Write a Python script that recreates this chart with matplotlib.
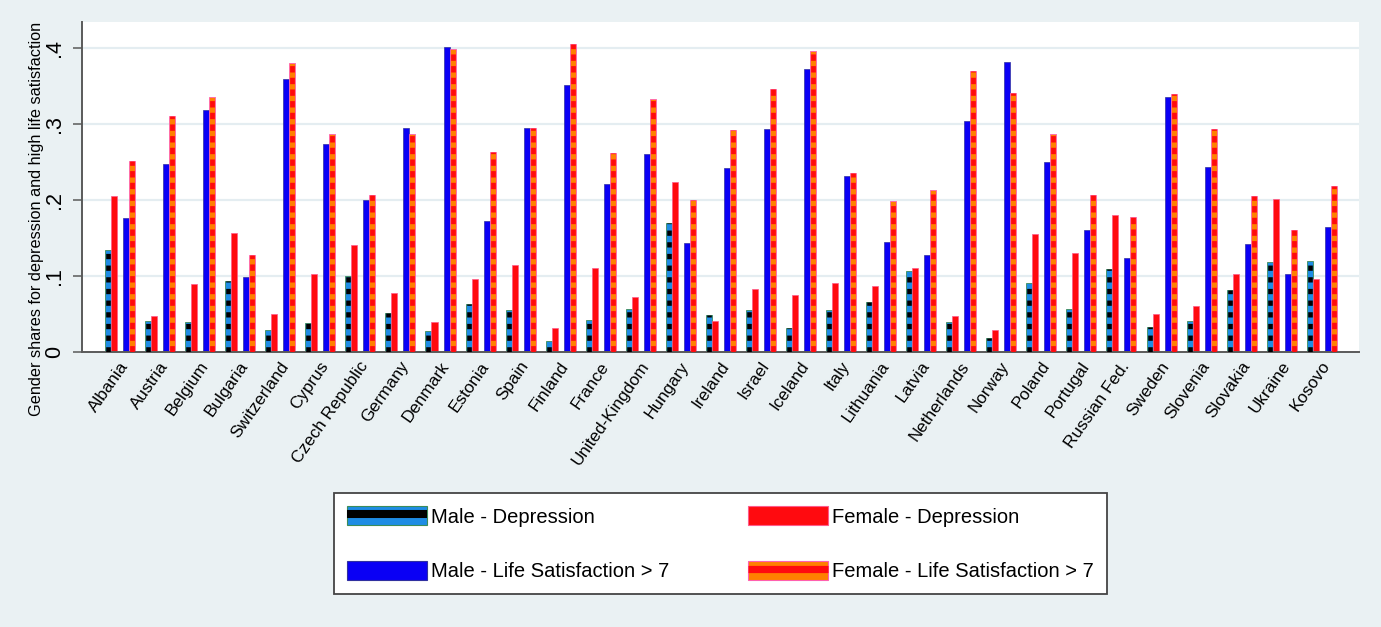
import numpy as np
import matplotlib
matplotlib.use("Agg")
import matplotlib.pyplot as plt
import matplotlib.transforms as mtransforms
from matplotlib.patches import Patch
from matplotlib.lines import Line2D
from matplotlib.legend_handler import HandlerTuple

countries = ["Albania", "Austria", "Belgium", "Bulgaria", "Switzerland", "Cyprus",
             "Czech Republic", "Germany", "Denmark", "Estonia", "Spain", "Finland",
             "France", "United-Kingdom", "Hungary", "Ireland", "Israel", "Iceland",
             "Italy", "Lithuania", "Latvia", "Netherlands", "Norway", "Poland",
             "Portugal", "Russian Fed.", "Sweden", "Slovenia", "Slovakia", "Ukraine",
             "Kosovo"]

male_dep = [0.134, 0.041, 0.040, 0.094, 0.029, 0.038, 0.100, 0.051, 0.028, 0.063,
            0.055, 0.015, 0.042, 0.057, 0.169, 0.049, 0.055, 0.031, 0.055, 0.066,
            0.106, 0.039, 0.019, 0.091, 0.057, 0.109, 0.033, 0.041, 0.081, 0.119,
            0.120]
female_dep = [0.205, 0.048, 0.090, 0.157, 0.050, 0.103, 0.141, 0.077, 0.040, 0.096,
              0.114, 0.031, 0.110, 0.072, 0.223, 0.041, 0.083, 0.075, 0.091, 0.087,
              0.111, 0.047, 0.029, 0.155, 0.130, 0.180, 0.050, 0.061, 0.103, 0.201,
              0.096]
male_ls = [0.176, 0.247, 0.318, 0.099, 0.359, 0.274, 0.200, 0.295, 0.401, 0.172,
           0.295, 0.351, 0.221, 0.261, 0.143, 0.242, 0.293, 0.372, 0.232, 0.145,
           0.128, 0.304, 0.381, 0.250, 0.161, 0.123, 0.336, 0.243, 0.142, 0.103,
           0.164]
female_ls = [0.251, 0.311, 0.336, 0.128, 0.380, 0.287, 0.207, 0.287, 0.399, 0.263,
             0.295, 0.405, 0.262, 0.333, 0.200, 0.292, 0.346, 0.396, 0.235, 0.199,
             0.213, 0.370, 0.340, 0.287, 0.207, 0.178, 0.339, 0.293, 0.205, 0.161,
             0.218]

yticks = [0, 0.1, 0.2, 0.3, 0.4]
ytick_labels = ["0", ".1", ".2", ".3", ".4"]
series_labels = ["Male - Depression", "Female - Depression",
                 "Male - Life Satisfaction > 7", "Female - Life Satisfaction > 7"]
ylabel = "Gender shares for depression and high life satisfaction"

BG = "#EAF1F3"
C_MD = "#1E8CE4"
C_FD = "#FF0A0F"
C_MLS = "#0A00F5"
C_FLS = "#FF8000"
AX_COL = "#5A5A5A"

plt.rcParams["font.family"] = ["Liberation Sans", "DejaVu Sans"]
plt.rcParams["lines.scale_dashes"] = False

W, H = 1381, 627
fig = plt.figure(figsize=(W / 100, H / 100), dpi=100, facecolor=BG)
ax = fig.add_axes([82 / W, 1 - 352 / H, (1359 - 82) / W, (352 - 22) / H])
ax.set_facecolor("white")

n = len(countries)
x = np.arange(n)
w = 0.15

# grid
for yv in yticks[1:]:
    ax.axhline(yv, color="#E4EDF1", lw=1.6, zorder=0)

md = np.array(male_dep)
fd = np.array(female_dep)
mls = np.array(male_ls)
fls = np.array(female_ls)

ax.bar(x - 0.3, md, w, color=C_MD, edgecolor="#3C8C5A", linewidth=0.6, zorder=2)
ax.vlines(x - 0.3, 0, md, colors="black", linewidth=3.3,
          linestyles=[(0, (3.8, 4.6))], capstyle="butt", zorder=3)
ax.bar(x - 0.15, fd, w, color=C_FD, edgecolor="#FF5A8A", linewidth=0.5, zorder=2)
ax.bar(x + 0.15, mls, w, color=C_MLS, edgecolor="#3030A0", linewidth=0.5, zorder=2)
ax.bar(x + 0.3, fls, w, color=C_FLS, edgecolor="#FF60B0", linewidth=0.6, zorder=2)
ax.vlines(x + 0.3, 0, fls, colors=C_FD, linewidth=3.4,
          linestyles=[(0, (4.6, 3.8))], capstyle="butt", zorder=3)

ax.set_xlim(-0.95, n - 1 + 0.93)
ax.set_ylim(0, 0.434)

for s in ["top", "right"]:
    ax.spines[s].set_visible(False)
for s in ["left", "bottom"]:
    ax.spines[s].set_color(AX_COL)
    ax.spines[s].set_linewidth(1.4)

ax.set_yticks(yticks)
ax.set_yticklabels(ytick_labels, rotation=90, va="center", fontsize=15.5)
ax.tick_params(axis="y", length=6.5, width=1.1, color=AX_COL, pad=5.5)

ax.set_xticks(x)
ax.set_xticklabels(countries, rotation=55, ha="right", va="center",
                   rotation_mode="anchor", fontsize=12.3)
ax.tick_params(axis="x", length=0, pad=8)
offset = mtransforms.ScaledTranslation(5 / 100, 0, fig.dpi_scale_trans)
for lab in ax.get_xticklabels():
    lab.set_transform(lab.get_transform() + offset)

fig.text(37 / W, 1 - 219 / H, ylabel, rotation=90, ha="center", va="center",
         fontsize=11.7)

h_md = (Patch(facecolor=C_MD, edgecolor="#3C8C5A", linewidth=0.8),
        Line2D([0], [0], color="black", lw=5.8, solid_capstyle="butt"))
h_fd = Patch(facecolor=C_FD, edgecolor="#FF5A8A", linewidth=0.8)
h_mls = Patch(facecolor=C_MLS, edgecolor="#3030A0", linewidth=0.8)
h_fls = (Patch(facecolor=C_FLS, edgecolor="#FF60B0", linewidth=0.8),
         Line2D([0], [0], color=C_FD, lw=5.2, solid_capstyle="butt"))

leg = fig.legend([h_md, h_mls, h_fd, h_fls],
                 [series_labels[0], series_labels[2], series_labels[1], series_labels[3]],
                 ncol=2, loc="upper center",
                 bbox_to_anchor=(720.5 / W, 1 - 493 / H), borderaxespad=0,
                 fontsize=14.5, handlelength=3.98, handleheight=1.1,
                 handletextpad=0.2, labelspacing=1.7, columnspacing=3.9,
                 borderpad=0.65, fancybox=False, framealpha=1,
                 facecolor="white", edgecolor="#444444",
                 handler_map={tuple: HandlerTuple(ndivide=1, pad=0)})
leg.get_frame().set_linewidth(1.3)

fig.savefig("out.png", dpi=100, facecolor=BG)
